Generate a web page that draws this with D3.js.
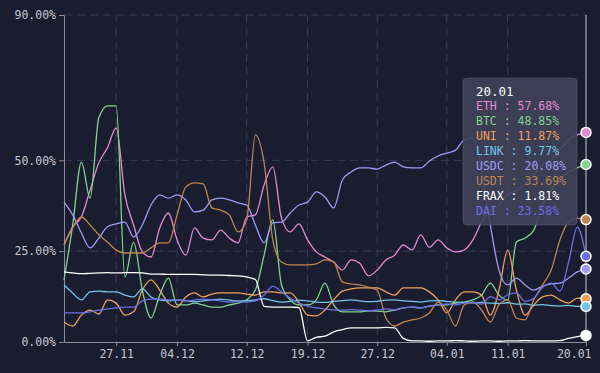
<!DOCTYPE html>
<html>
<head>
<meta charset="utf-8">
<script src="https://cdn.jsdelivr.net/npm/d3@7/dist/d3.min.js"></script>
<style>
   html, body { margin: 0; padding: 0; background: #1a1c2f; }
   svg { display: block; }
   text { font-family: "DejaVu Sans Mono", monospace; }
</style>
</head>
<body>
<div id="chart"></div>
<script>

// daily share (%) from 21.11 to 20.01
const startDate = "2022-11-21"
const endDate = "2023-01-20"

const seriesNames = ["ETH", "BTC", "UNI", "LINK", "USDC", "USDT", "FRAX", "DAI"]
const seriesColors = ["#e48ad2", "#7fd68c", "#eda259", "#72c6e8", "#9c9df5", "#bd8650", "#ffffff", "#6c70e8"]

const eth = [26.7, 31.7, 34.4, 41.8, 49.3, 53.5, 58.9, 40.5, 32.2, 24.8, 23.4, 31.4, 35.5, 28.1, 23.9, 31.4, 28.6, 28.1, 30.8, 28.6,
   27.3, 34.4, 35.0, 43.2, 48.2, 34.1, 30.3, 32.5, 28.1, 24.8, 23.4, 22.0, 19.8, 22.6, 21.7, 18.2, 19.8, 22.6, 23.9, 26.7,
   25.3, 29.5, 26.1, 28.1, 25.9, 24.8, 25.3, 28.1, 33.0, 36.3, 37.7, 40.5, 41.8, 43.2, 46.0, 48.7, 50.1, 52.8, 55.6, 57.0, 57.68]
const btc = [17.1, 32.2, 49.5, 39.6, 61.7, 65.0, 65.0, 17.9, 27.5, 14.3, 6.6, 12.9, 17.6, 10.2, 10.2, 10.7, 10.2, 9.6, 9.6, 10.2,
   10.7, 11.6, 14.3, 23.9, 33.6, 15.7, 11.6, 10.2, 10.2, 11.6, 16.2, 10.2, 8.3, 8.3, 8.3, 8.6, 8.5, 8.3, 8.8, 9.4,
   9.6, 9.4, 9.9, 10.2, 10.2, 10.7, 11.0, 11.6, 12.9, 16.2, 12.9, 11.6, 27.5, 28.6, 30.8, 37.7, 41.8, 44.6, 46.8, 47.9, 48.85]
const uni = [5.5, 4.4, 7.4, 8.8, 7.7, 11.6, 10.7, 7.4, 8.3, 14.3, 17.1, 14.3, 10.7, 9.6, 12.4, 13.5, 12.4, 13.2, 13.5, 13.5,
   13.5, 13.2, 12.9, 13.8, 13.8, 13.5, 13.5, 11.0, 7.4, 7.2, 8.8, 11.6, 14.0, 14.6, 14.9, 14.9, 14.9, 13.8, 12.9, 14.9,
   14.9, 14.9, 13.8, 11.6, 8.0, 11.6, 13.8, 13.8, 12.9, 7.4, 14.3, 25.3, 14.3, 7.4, 10.2, 12.4, 12.9, 11.6, 10.7, 12.1, 11.87]
const link = [15.7, 13.5, 11.6, 13.8, 14.0, 13.8, 13.8, 12.9, 12.4, 14.6, 12.4, 11.6, 11.3, 11.6, 11.4, 11.1, 11.3, 11.6, 11.8, 11.5,
   11.3, 11.4, 11.6, 11.9, 11.4, 11.0, 11.2, 11.5, 11.3, 11.0, 10.9, 11.2, 11.4, 11.6, 11.3, 11.1, 11.2, 11.5, 11.6, 11.3,
   11.2, 11.0, 11.3, 11.4, 11.2, 11.0, 10.9, 10.8, 10.9, 10.7, 10.6, 10.8, 10.4, 10.5, 10.1, 10.3, 10.0, 9.9, 10.1, 9.8, 9.77]
const usdc = [38.5, 35.0, 30.0, 25.9, 28.6, 31.7, 32.5, 33.0, 28.9, 32.2, 37.7, 40.5, 39.6, 40.5, 39.1, 35.8, 36.3, 39.1, 39.6, 39.1,
   38.3, 37.7, 32.2, 27.3, 32.8, 33.0, 35.5, 37.7, 38.5, 41.3, 39.9, 36.9, 44.6, 46.8, 47.9, 47.9, 47.6, 48.7, 49.5, 48.2,
   47.9, 47.9, 49.8, 51.2, 52.0, 52.8, 55.6, 56.2, 47.3, 32.2, 19.8, 15.7, 17.6, 15.7, 14.3, 15.4, 16.0, 16.2, 17.6, 19.3, 20.08]
const usdt = [26.7, 31.4, 34.4, 32.2, 29.5, 27.5, 25.3, 24.5, 24.5, 24.5, 25.9, 27.3, 27.3, 35.0, 42.7, 43.8, 43.5, 36.9, 36.3, 35.0,
   30.3, 33.6, 57.0, 49.3, 28.1, 22.0, 21.2, 21.2, 21.2, 21.5, 22.6, 22.0, 16.5, 16.0, 15.7, 15.1, 14.3, 6.6, 4.4, 5.5,
   6.1, 6.6, 8.0, 11.0, 8.8, 4.4, 10.2, 11.0, 8.8, 5.5, 10.2, 11.6, 6.6, 6.1, 11.6, 15.7, 19.8, 28.1, 33.0, 34.1, 33.69]
const frax = [19.3, 19.0, 18.8, 18.9, 19.0, 19.1, 19.0, 19.1, 19.1, 19.0, 18.7, 18.7, 18.6, 18.6, 18.6, 18.6, 18.5, 18.4, 18.4, 18.3,
   18.2, 17.9, 17.2, 9.8, 9.6, 9.6, 9.6, 9.5, 0.3, 1.3, 1.6, 2.8, 3.4, 3.9, 3.9, 3.9, 3.9, 4.0, 3.9, 1.0,
   0.3, 0.3, 0.2, 0.3, 0.3, 0.4, 0.3, 0.2, 0.3, 0.3, 0.2, 0.3, 0.3, 0.4, 0.3, 0.3, 0.3, 0.4, 1.0, 1.5, 1.81]
const dai = [8.0, 8.0, 8.0, 8.3, 8.8, 9.1, 9.4, 9.6, 9.6, 11.3, 11.8, 11.8, 11.6, 11.6, 11.3, 11.6, 11.8, 11.6, 11.3, 11.0,
   11.1, 11.0, 11.3, 12.9, 15.4, 13.8, 12.1, 10.7, 9.9, 9.4, 9.1, 8.8, 8.8, 8.9, 8.8, 8.6, 8.8, 9.1, 8.8, 9.4,
   9.6, 9.4, 9.9, 10.2, 10.5, 10.2, 10.7, 11.0, 10.4, 12.5, 11.6, 13.0, 13.5, 11.2, 12.0, 15.0, 16.2, 14.0, 22.0, 31.6, 23.58]

const xTickDates = ["2022-11-27", "2022-12-04", "2022-12-12", "2022-12-19", "2022-12-27", "2023-01-04", "2023-01-11", "2023-01-20"]
const yTickValues = [0, 25, 50, 90]

let values = [eth, btc, uni, link, usdc, usdt, frax, dai]

let margin = { top: 15, right: 14, bottom: 31, left: 64 }
let width = 600 - margin.left - margin.right
let height = 373 - margin.top - margin.bottom

let parseDate = d3.timeParse("%Y-%m-%d")
let dates = d3.timeDay.range(parseDate(startDate), d3.timeDay.offset(parseDate(endDate), 1))
let formatDate = d3.timeFormat("%d.%m")

let x = d3.scaleTime()
   .domain([dates[0], dates[dates.length - 1]])
   .range([0, width])

let y = d3.scaleLinear()
   .domain([0, 90])
   .range([height, 0])

let svg = d3.select("#chart").append("svg")
   .attr("width", 600)
   .attr("height", 373)
   .style("background", "#1a1c2f")

let g = svg.append("g")
   .attr("transform", "translate(" + margin.left + "," + margin.top + ")")

// grid lines
g.selectAll("line.gridline.horizontal")
   .data(yTickValues.filter(function (d) { return d > 0 }))
   .join("line")
   .attr("class", "gridline horizontal")
   .attr("x1", 0)
   .attr("x2", width)
   .attr("y1", function (d) { return y(d) })
   .attr("y2", function (d) { return y(d) })
   .attr("stroke", "#3a3d55")
   .attr("stroke-dasharray", "8,5")

g.selectAll("line.gridline.vertical")
   .data(xTickDates.slice(0, -1))
   .join("line")
   .attr("class", "gridline vertical")
   .attr("x1", function (d) { return x(parseDate(d)) })
   .attr("x2", function (d) { return x(parseDate(d)) })
   .attr("y1", 0)
   .attr("y2", height)
   .attr("stroke", "#3a3d55")
   .attr("stroke-dasharray", "8,5")

// axes
let horizontalAxis = g.append("g")
   .attr("class", "x axis")
   .attr("transform", "translate(0," + height + ")")
   .call(d3.axisBottom(x)
      .tickValues(xTickDates.map(parseDate))
      .tickFormat(formatDate)
      .tickSize(4)
      .tickPadding(4)
      .tickSizeOuter(0))

// keep the last date label inside the picture
horizontalAxis.selectAll("g.tick text")
   .filter(function (d, i, nodes) { return i === nodes.length - 1 })
   .attr("text-anchor", "end")
   .attr("x", 5)

let verticalAxis = g.append("g")
   .attr("class", "y axis")
   .call(d3.axisLeft(y)
      .tickValues(yTickValues)
      .tickFormat(function (d) { return d.toFixed(2) + "%" })
      .tickSize(5)
      .tickPadding(3)
      .tickSizeOuter(0))

g.selectAll(".axis path, .axis line").attr("stroke", "#8c8e9c")
g.selectAll(".axis text")
   .attr("fill", "#c4c6d2")
   .style("font-size", "11.5px")

// lines
let line = d3.line()
   .x(function (d, i) { return x(dates[i]) })
   .y(function (d) { return y(d) })
   .curve(d3.curveMonotoneX)

g.selectAll("path.series")
   .data(values)
   .join("path")
   .attr("class", "series")
   .attr("fill", "none")
   .attr("stroke", function (d, i) { return seriesColors[i] })
   .attr("stroke-width", 1.3)
   .attr("d", line)

// axis pointer on the last day
let lastX = x(dates[dates.length - 1])

g.append("line")
   .attr("x1", lastX)
   .attr("x2", lastX)
   .attr("y1", 0)
   .attr("y2", height)
   .attr("stroke", "#c9cad4")
   .attr("stroke-width", 1)

g.selectAll("circle.point")
   .data(values)
   .join("circle")
   .attr("class", "point")
   .attr("cx", lastX)
   .attr("cy", function (d) { return y(d[d.length - 1]) })
   .attr("r", 5)
   .attr("fill", function (d, i) { return seriesColors[i] })
   .attr("stroke", "#ffffff")
   .attr("stroke-width", 1.5)

// tooltip
let tipWidth = 114
let tipHeight = 147
let tip = svg.append("g")
   .attr("transform", "translate(" + (margin.left + lastX - 9 - tipWidth) + ",78)")

tip.append("rect")
   .attr("width", tipWidth)
   .attr("height", tipHeight)
   .attr("rx", 4)
   .attr("fill", "rgba(64,66,90,0.9)")
   .attr("stroke", "rgba(120,122,150,0.35)")

tip.append("text")
   .attr("x", 13)
   .attr("y", 18)
   .attr("fill", "#ffffff")
   .style("font-size", "12.5px")
   .text(formatDate(dates[dates.length - 1]))

tip.selectAll("text.row")
   .data(values)
   .join("text")
   .attr("class", "row")
   .attr("x", 13)
   .attr("y", function (d, i) { return 32 + i * 15 })
   .attr("fill", function (d, i) { return seriesColors[i] })
   .style("font-size", "11.5px")
   .text(function (d, i) { return seriesNames[i] + " : " + d[d.length - 1].toFixed(2) + "%" })

</script>
</body>
</html>
